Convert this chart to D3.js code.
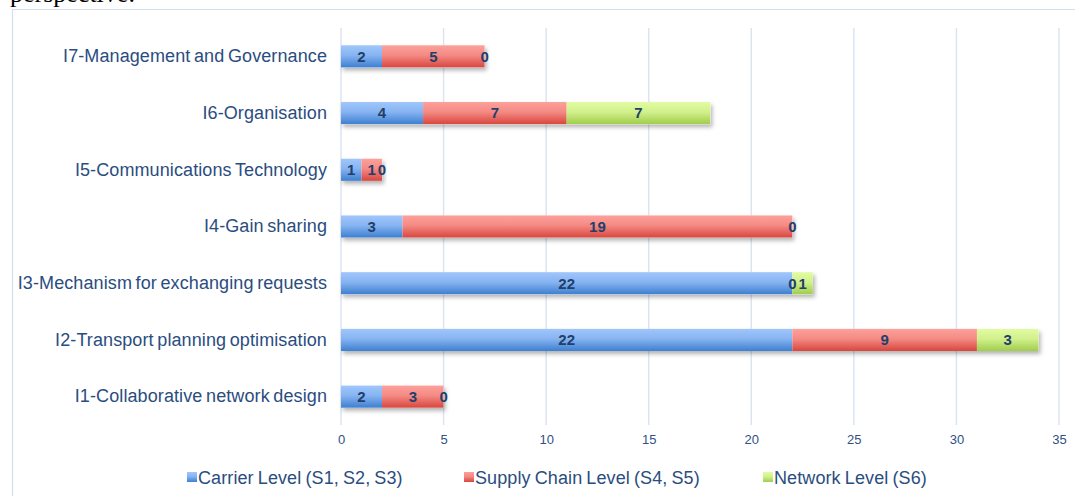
<!DOCTYPE html>
<html>
<head>
<meta charset="utf-8">
<script src="https://cdn.jsdelivr.net/npm/d3@7"></script>
<style>
  body { margin: 0; background: #fff; }
  svg { display: block; }
</style>
</head>
<body>
<svg id="chart" width="1075" height="496"></svg>
<script>
const categories = [
  "I7-Management and Governance",
  "I6-Organisation",
  "I5-Communications Technology",
  "I4-Gain sharing",
  "I3-Mechanism for exchanging requests",
  "I2-Transport planning optimisation",
  "I1-Collaborative network design"
];
const seriesNames = ["Carrier Level (S1, S2, S3)", "Supply Chain Level (S4, S5)", "Network Level (S6)"];
const carrier     = [2, 4, 1, 3, 22, 22, 2];
const supplyChain = [5, 7, 1, 19, 0, 9, 3];
const network     = [0, 7, 0, 0, 1, 3, 0];
const xTicks = [0, 5, 10, 15, 20, 25, 30, 35];

const svg = d3.select("#chart");
const width = 1075;

// colours: [top, bottom] of the gradient
const colors = [
  ["#a0c6fc", "#3d7fd1"],
  ["#fda09b", "#d8463e"],
  ["#e2fca2", "#a1cd4c"]
];

const defs = svg.append("defs");
colors.forEach((c, i) => {
  const g = defs.append("linearGradient")
    .attr("id", "grad" + i)
    .attr("x1", 0).attr("y1", 0).attr("x2", 0).attr("y2", 1);
  g.append("stop").attr("offset", "0%").attr("stop-color", c[0]);
  g.append("stop").attr("offset", "45%").attr("stop-color", d3.interpolateRgb(c[0], c[1])(0.25));
  g.append("stop").attr("offset", "100%").attr("stop-color", c[1]);
});
const shadow = defs.append("filter").attr("id", "shadow")
  .attr("x", "-5%").attr("y", "-30%").attr("width", "115%").attr("height", "190%");
shadow.append("feDropShadow")
  .attr("dx", 2).attr("dy", 3).attr("stdDeviation", 2)
  .attr("flood-color", "#000").attr("flood-opacity", 0.3);

// cut-off line of text above the chart
svg.append("text")
  .attr("x", 10).attr("y", 2)
  .style("font-family", "Liberation Serif, Times New Roman, serif")
  .style("font-size", "26px")
  .attr("fill", "#000")
  .text("perspective.");

// chart frame
svg.append("path")
  .attr("d", `M12.5,496 V9.5 H${width}`)
  .attr("fill", "none")
  .attr("stroke", "#d3deee")
  .attr("stroke-width", 1.2);

const x = d3.scaleLinear().domain([0, 35]).range([341, 1059]);
const y = d3.scaleBand().domain(categories).range([28, 425]).paddingInner(0.61).paddingOuter(0.305);

// gridlines
svg.append("g")
  .selectAll("line")
  .data(xTicks)
  .join("line")
  .attr("x1", d => x(d)).attr("x2", d => x(d))
  .attr("y1", 28).attr("y2", 425)
  .attr("stroke", "#dbe5f2")
  .attr("stroke-width", 1.5);

// x axis labels
const xAxis = svg.append("g")
  .attr("transform", "translate(0,425)")
  .call(d3.axisBottom(x).tickValues(xTicks).tickSize(0).tickPadding(10));
xAxis.select(".domain").remove();
xAxis.selectAll("text")
  .style("font-family", "Liberation Sans, Arial, sans-serif")
  .style("font-size", "13px")
  .attr("fill", "#2f5183");

const labelFont = sel => sel
  .style("font-family", "Liberation Sans, Arial, sans-serif")
  .style("font-size", "18px")
  .style("letter-spacing", "0.1px")
  .style("word-spacing", "-1.5px")
  .attr("fill", "#2a4d80");

// y axis labels
const yAxis = svg.append("g")
  .attr("transform", "translate(341,0)")
  .call(d3.axisLeft(y).tickSize(0).tickPadding(14));
yAxis.select(".domain").remove();
yAxis.selectAll("text").call(labelFont);

// stacked data
const rows = categories.map((c, i) => ({ cat: c, s0: carrier[i], s1: supplyChain[i], s2: network[i] }));
const stack = d3.stack().keys(["s0", "s1", "s2"])(rows);

const bars = svg.append("g");
// shadow per whole bar
bars.selectAll("rect.shadow")
  .data(rows)
  .join("rect")
  .attr("class", "shadow")
  .attr("x", x(0))
  .attr("y", d => y(d.cat))
  .attr("width", d => x(d.s0 + d.s1 + d.s2) - x(0))
  .attr("height", y.bandwidth())
  .attr("fill", "#fff")
  .attr("filter", "url(#shadow)");

stack.forEach((layer, i) => {
  bars.append("g")
    .selectAll("rect")
    .data(layer)
    .join("rect")
    .attr("x", d => x(d[0]))
    .attr("y", d => y(d.data.cat))
    .attr("width", d => x(d[1]) - x(d[0]))
    .attr("height", y.bandwidth())
    .attr("fill", `url(#grad${i})`);
});

// data labels
stack.forEach((layer, i) => {
  svg.append("g")
    .selectAll("text")
    .data(layer)
    .join("text")
    .attr("x", d => x((d[0] + d[1]) / 2))
    .attr("y", d => y(d.data.cat) + y.bandwidth() / 2)
    .attr("dy", "0.36em")
    .attr("text-anchor", "middle")
    .style("font-family", "Liberation Sans, Arial, sans-serif")
    .style("font-size", "15px")
    .style("font-weight", "bold")
    .attr("fill", "#223f6b")
    .text(d => d[1] - d[0]);
});

// legend
const legendX = [187, 464, 763];
const legend = svg.append("g")
  .selectAll("g")
  .data(seriesNames)
  .join("g")
  .attr("transform", (d, i) => `translate(${legendX[i]},478)`);
legend.append("rect")
  .attr("x", 0).attr("y", -6)
  .attr("width", 10).attr("height", 10)
  .attr("fill", (d, i) => `url(#grad${i})`);
legend.append("text")
  .attr("x", 11).attr("dy", "0.36em")
  .call(labelFont)
  .style("word-spacing", "-1px");
legend.select("text").text(d => d);
</script>
</body>
</html>
